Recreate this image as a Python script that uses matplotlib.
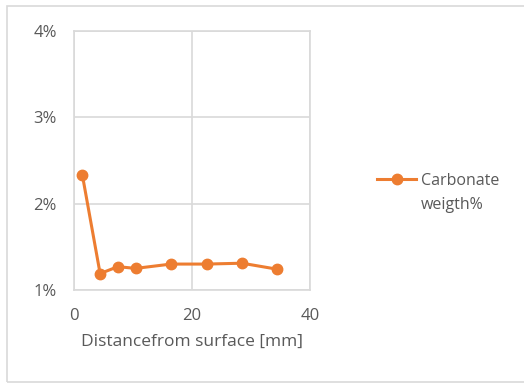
import matplotlib.pyplot as plt
from matplotlib.patches import Rectangle
from matplotlib.ticker import FuncFormatter

# carbonate content vs depth
distance_mm = [1.5, 4.5, 7.5, 10.5, 16.5, 22.5, 28.5, 34.5]
carbonate_pct = [2.33, 1.19, 1.27, 1.25, 1.30, 1.30, 1.31, 1.24]
series_label = ["Carbonate", "weigth%"]

plt.rcParams['font.family'] = ['Open Sans', 'DejaVu Sans']
grey = '#595959'
orange = '#ED7D31'

fig = plt.figure(figsize=(5.24, 3.83), dpi=100)
fig.patches.append(Rectangle((6.5 / 524, 1 - 382 / 383), 1.1, (382 - 5.5) / 383,
                             transform=fig.transFigure, fill=False,
                             edgecolor='#d9d9d9', linewidth=1.2))

ax = fig.add_axes([73.5 / 524, 1 - 290 / 383, (310 - 73.5) / 524, (290 - 30.7) / 383])
ax.plot(distance_mm, carbonate_pct, '-o', color=orange, linewidth=2.2,
        markersize=7.5, label=series_label[0])

ax.set_xlim(0, 40)
ax.set_ylim(1, 4)
ax.set_xticks([0, 20, 40])
ax.set_yticks([1, 2, 3, 4])
ax.yaxis.set_major_formatter(FuncFormatter(lambda v, p: "%d%%" % v))
ax.grid(True, color='#d9d9d9', linewidth=1.2)
ax.set_axisbelow(True)
for s in ax.spines.values():
    s.set_color('#d9d9d9')
    s.set_linewidth(1.2)
ax.tick_params(axis='both', length=0, colors=grey, labelsize=12)
ax.tick_params(axis='x', pad=13)
ax.tick_params(axis='y', pad=12)
ax.set_xlabel("Distancefrom surface [mm]", color=grey, fontsize=12.5, labelpad=7)

# legend: marker + first line, second line of the label wrapped underneath
leg = fig.legend(loc='center left', bbox_to_anchor=(371 / 524, 1 - 181 / 383),
                 frameon=False, fontsize=11.5, handlelength=2.4,
                 handletextpad=0.3, borderaxespad=0)
for t in leg.get_texts():
    t.set_color(grey)
fig.text(421 / 524, 1 - 205 / 383, series_label[1], color=grey, fontsize=11.5,
         ha='left', va='center')

fig.savefig("out.png", dpi=100)
